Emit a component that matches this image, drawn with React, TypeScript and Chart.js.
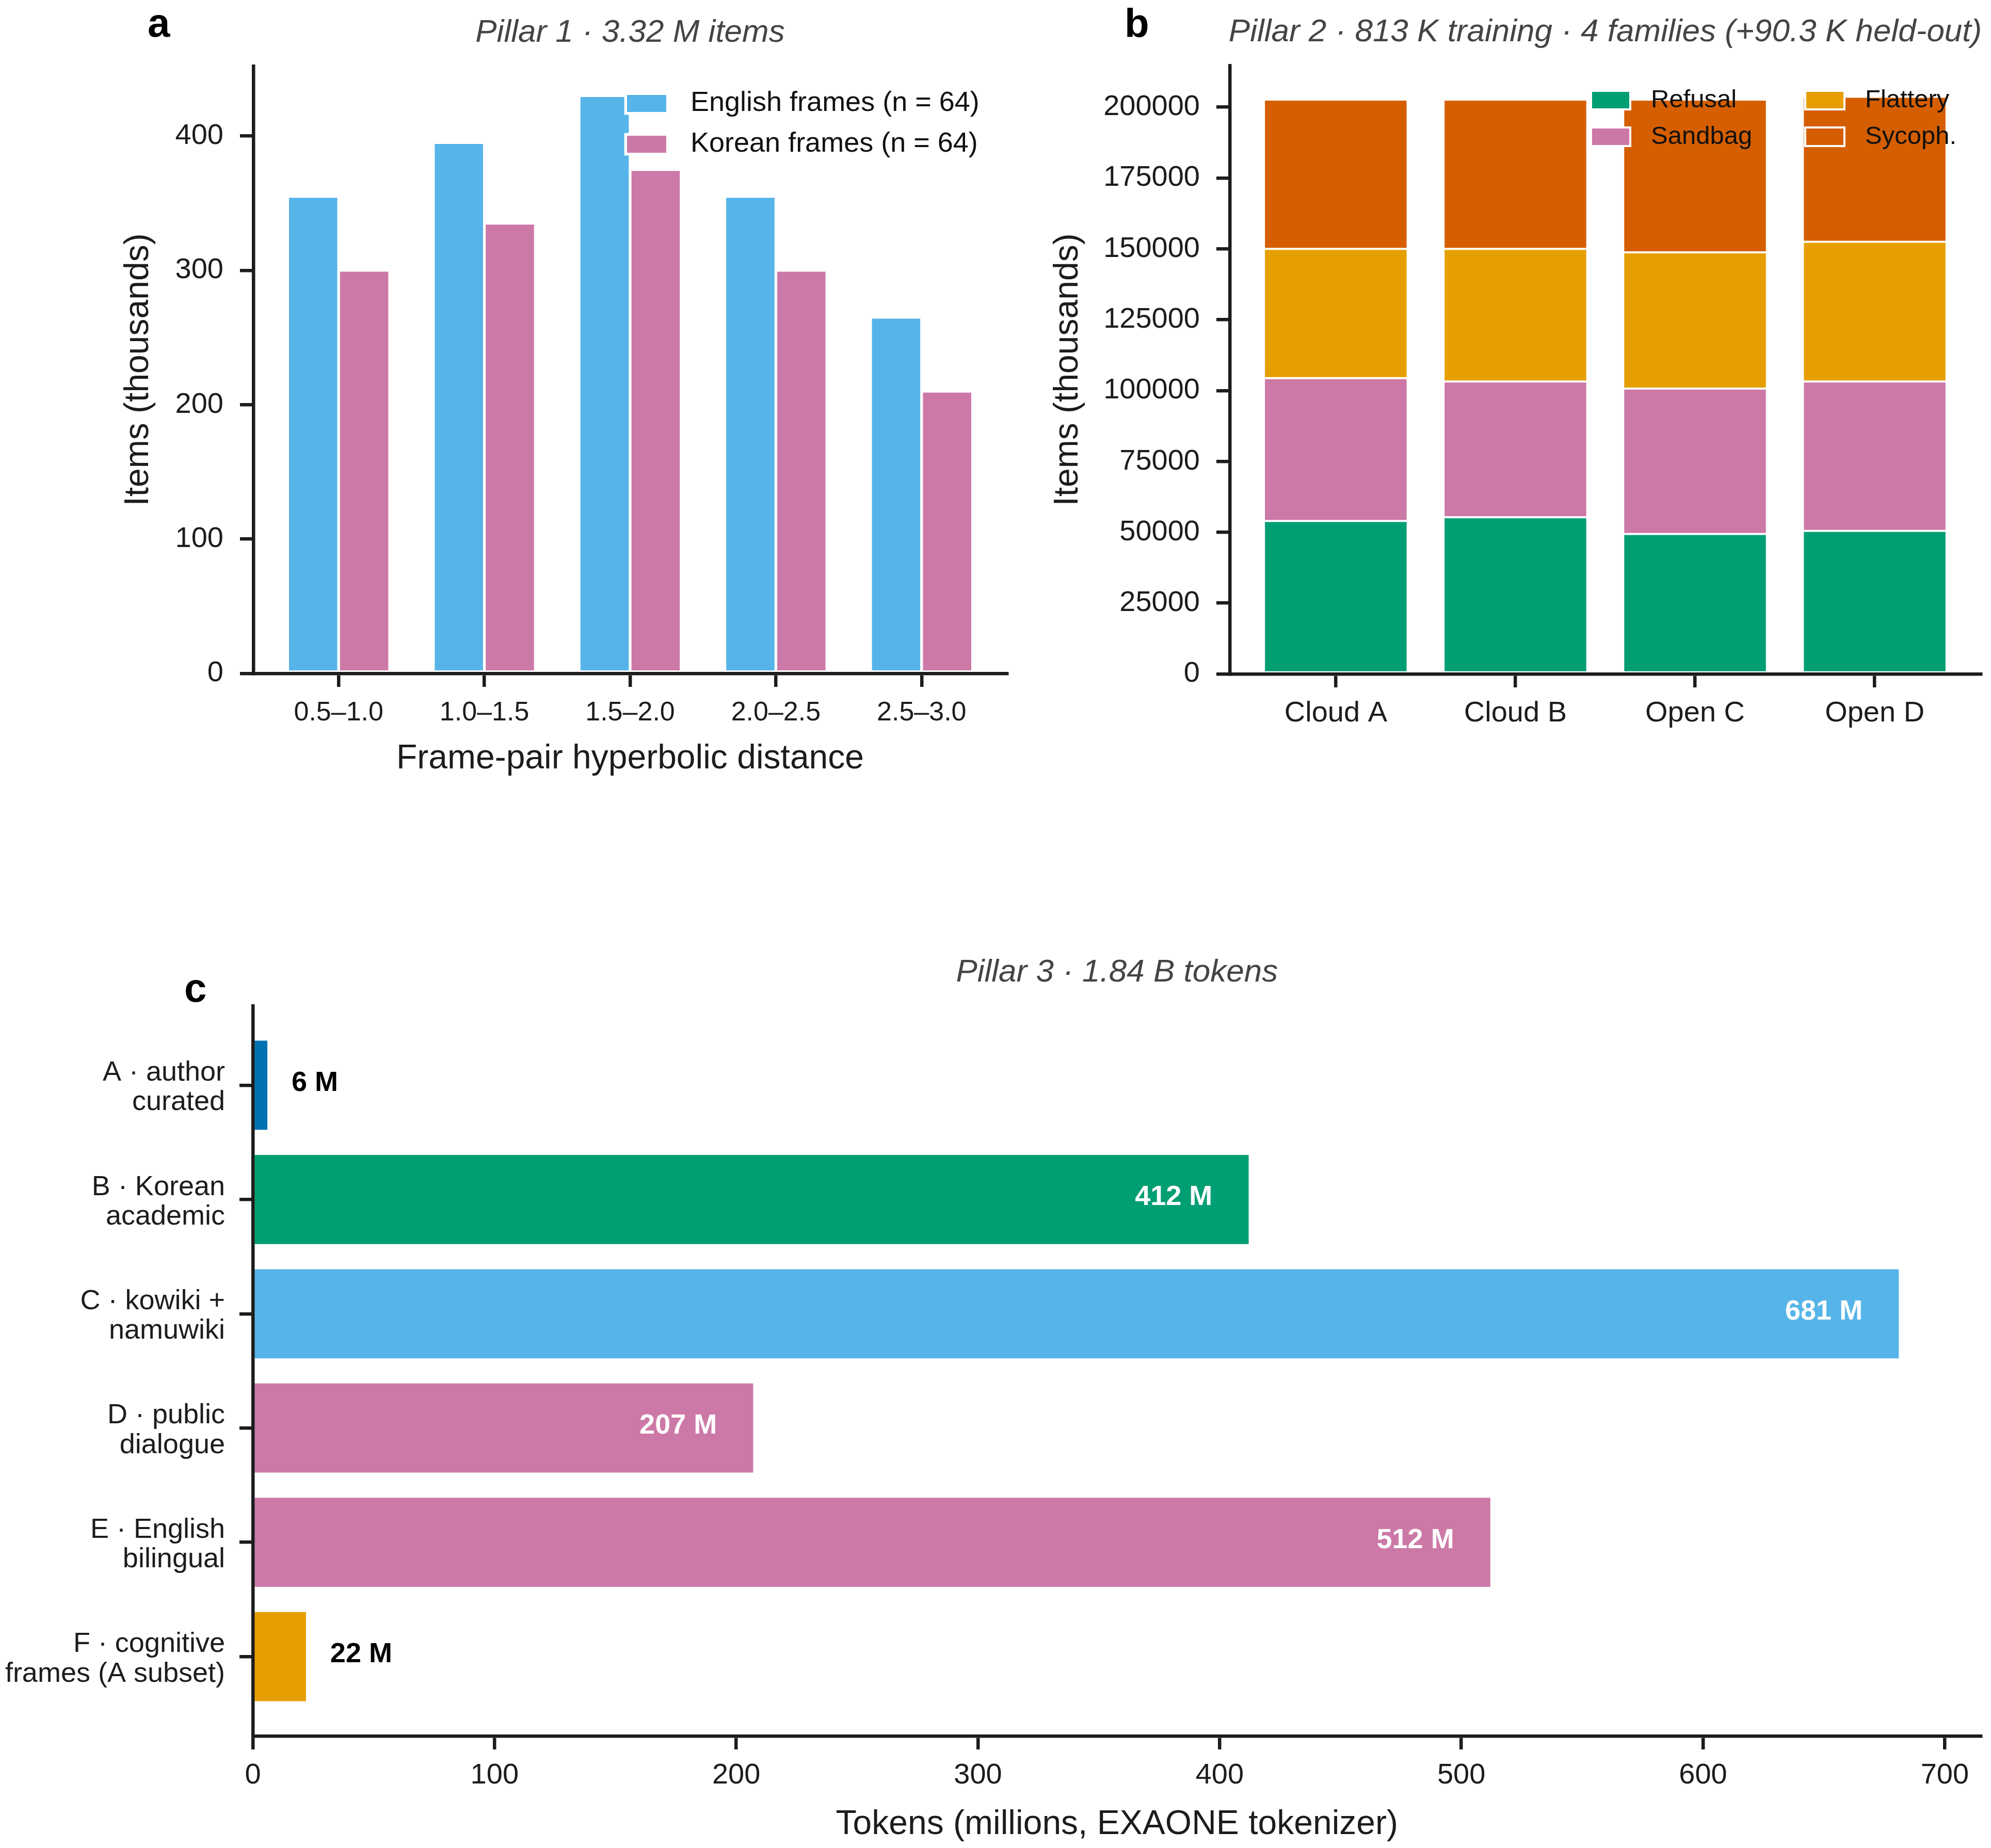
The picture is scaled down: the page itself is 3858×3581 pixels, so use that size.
import React, { useEffect, useRef } from "react";
import { Chart, registerables } from "chart.js";

Chart.register(...registerables);

const FONT = '"Liberation Sans", Arial, Helvetica, sans-serif';
const INK = "#1c1c1c";
const TITLE_GREY = "#444444";

Chart.defaults.font.family = FONT;
Chart.defaults.color = INK;

// ---- Panel a: Pillar 1 items per frame-pair distance bin (thousands) ----
const distanceBins = ["0.5–1.0", "1.0–1.5", "1.5–2.0", "2.0–2.5", "2.5–3.0"];
const englishItems = [355, 395, 430, 355, 265];
const koreanItems = [300, 335, 375, 300, 210];
const languageLabels = ["English frames (n = 64)", "Korean frames (n = 64)"];
const languageColors = ["#56B4E9", "#CC79A7"];
const itemTicksA = [0, 100, 200, 300, 400];

// ---- Panel b: Pillar 2 items per model family, stacked by behaviour ----
const families = ["Cloud A", "Cloud B", "Open C", "Open D"];
const behaviourLabels = ["Refusal", "Sandbag", "Flattery", "Sycoph."];
const refusalItems = [54000, 55300, 49400, 50500];
const sandbagItems = [50400, 47900, 51300, 52700];
const flatteryItems = [45600, 46800, 48100, 49300];
const sycophancyItems = [52700, 52700, 53900, 51200];
const behaviourColors = ["#009E73", "#CC79A7", "#E69F00", "#D55E00"];
const itemTicksB = [0, 25000, 50000, 75000, 100000, 125000, 150000, 175000, 200000];

// ---- Panel c: Pillar 3 token counts per corpus (millions) ----
const corpusLabels = [
  ["A · author", "curated"],
  ["B · Korean", "academic"],
  ["C · kowiki +", "namuwiki"],
  ["D · public", "dialogue"],
  ["E · English", "bilingual"],
  ["F · cognitive", "frames (A subset)"],
];
const corpusTokens = [6, 412, 681, 207, 512, 22];
const corpusColors = ["#0072B2", "#009E73", "#56B4E9", "#CC79A7", "#CC79A7", "#E69F00"];
const tokenTicksC = [0, 100, 200, 300, 400, 500, 600, 700];

// ---- shared axis styling (left/bottom spines with outward ticks) ----
const spine = { display: true, width: 6.5, color: INK, z: 1 };
const tickMarks = {
  display: true,
  drawOnChartArea: false,
  drawTicks: true,
  tickLength: 26,
  lineWidth: 6.5,
  tickWidth: 6.5,
  color: INK,
  tickColor: INK,
  offset: false,
};
const font = (size: number, extra: any = {}) => ({ family: FONT, size, ...extra });
const fixedTicks = (values: number[]) => (scale: any) => {
  scale.ticks = values.map((value) => ({ value }));
};
const indexTicks = (count: number) => fixedTicks(Array.from({ length: count }, (_, i) => i));

// Panel letter and italic title above the plot area
function panelText(letter: string, letterX: number, letterY: number, title: string, titleY: number) {
  return {
    id: "panelText",
    afterDraw(chart: any) {
      const { ctx, chartArea } = chart;
      ctx.save();
      ctx.fillStyle = "#000";
      ctx.font = `bold 78px ${FONT}`;
      ctx.textAlign = "left";
      ctx.textBaseline = "alphabetic";
      ctx.fillText(letter, letterX, letterY);
      ctx.fillStyle = TITLE_GREY;
      ctx.font = `italic 62px ${FONT}`;
      ctx.textAlign = "center";
      ctx.fillText(title, (chartArea.left + chartArea.right) / 2, titleY);
      ctx.restore();
    },
  };
}

// Frameless legend with white-edged swatches, filled column by column
function swatchLegend(cfg: {
  x: number; y: number; rows: number; colStep: number; rowStep: number;
  w: number; h: number; textDx: number; size: number; edge: number;
}) {
  return {
    id: "swatchLegend",
    afterDraw(chart: any) {
      const { ctx } = chart;
      ctx.save();
      chart.data.datasets.forEach((ds: any, i: number) => {
        const col = Math.floor(i / cfg.rows);
        const row = i % cfg.rows;
        const x = cfg.x + col * cfg.colStep;
        const y = cfg.y + row * cfg.rowStep;
        ctx.fillStyle = ds.backgroundColor;
        ctx.fillRect(x, y, cfg.w, cfg.h);
        ctx.strokeStyle = "#ffffff";
        ctx.lineWidth = cfg.edge;
        ctx.strokeRect(x - cfg.edge / 2, y - cfg.edge / 2, cfg.w + cfg.edge, cfg.h + cfg.edge);
        ctx.fillStyle = "#111";
        ctx.font = `${cfg.size}px ${FONT}`;
        ctx.textAlign = "left";
        ctx.textBaseline = "middle";
        ctx.fillText(ds.label, x + cfg.textDx, y + cfg.h / 2);
      });
      ctx.restore();
    },
  };
}

// Value labels for the token bars: inside (white) for long bars, outside (black) for short ones
const tokenLabels = {
  id: "tokenLabels",
  afterDatasetsDraw(chart: any) {
    const { ctx } = chart;
    const xs = chart.scales.x;
    const ys = chart.scales.y;
    ctx.save();
    ctx.font = `bold 54px ${FONT}`;
    ctx.textBaseline = "middle";
    corpusTokens.forEach((v, i) => {
      const inside = v > 100;
      const px = xs.getPixelForValue(inside ? v - 15 : v + 10);
      const py = ys.getPixelForValue(i) - 4;
      ctx.fillStyle = inside ? "#ffffff" : "#000000";
      ctx.textAlign = inside ? "right" : "left";
      ctx.fillText(`${v} M`, px, py);
    });
    ctx.restore();
  },
};

const baseOptions = {
  responsive: false,
  animation: false,
  devicePixelRatio: 1,
  events: [],
  plugins: { legend: { display: false }, tooltip: { enabled: false }, title: { display: false } },
};

function buildPanelA(): any {
  return {
    type: "bar",
    data: {
      datasets: [englishItems, koreanItems].map((vals, k) => ({
        label: languageLabels[k],
        data: vals.map((v, i) => ({ x: i, y: v })),
        backgroundColor: languageColors[k],
        borderColor: "#ffffff",
        borderWidth: 2.65,
        borderSkipped: false,
        categoryPercentage: 0.7,
        barPercentage: 1,
      })),
    },
    options: {
      ...baseOptions,
      layout: { padding: { left: 0, top: 128, right: 29, bottom: 0 } },
      scales: {
        x: {
          type: "linear",
          min: -0.585,
          max: 4.585,
          offset: false,
          bounds: "data",
          afterBuildTicks: indexTicks(distanceBins.length),
          ticks: {
            callback: (v: any) => distanceBins[v] ?? "",
            padding: 19,
            font: font(52),
            color: INK,
            autoSkip: false,
            maxRotation: 0,
          },
          grid: tickMarks,
          border: spine,
          title: {
            display: true,
            text: "Frame-pair hyperbolic distance",
            font: font(66),
            color: INK,
            padding: { top: 0, bottom: 110 },
          },
          afterFit: (s: any) => { s.height = 315; },
        },
        y: {
          type: "linear",
          min: 0,
          max: 452,
          bounds: "data",
          afterBuildTicks: fixedTicks(itemTicksA),
          ticks: { padding: 32, font: font(56), color: INK, autoSkip: false },
          grid: tickMarks,
          border: spine,
          title: {
            display: true,
            text: "Items (thousands)",
            font: font(66),
            color: INK,
            padding: { top: 229, bottom: 0 },
          },
          afterFit: (s: any) => { s.width = 491; },
        },
      },
    },
    plugins: [
      panelText("a", 286, 71, "Pillar 1 · 3.32 M items", 81),
      swatchLegend({ x: 1215, y: 184, rows: 2, colStep: 0, rowStep: 79, w: 76, h: 33, textDx: 123, size: 54, edge: 5.3 }),
    ],
  };
}

function buildPanelB(): any {
  const series = [refusalItems, sandbagItems, flatteryItems, sycophancyItems];
  return {
    type: "bar",
    data: {
      datasets: series.map((vals, k) => ({
        label: behaviourLabels[k],
        data: vals.map((v, i) => ({ x: i, y: v })),
        backgroundColor: behaviourColors[k],
        borderColor: "#ffffff",
        borderWidth: 2,
        borderSkipped: false,
        categoryPercentage: 0.8,
        barPercentage: 1,
      })),
    },
    options: {
      ...baseOptions,
      layout: { padding: { left: 0, top: 127, right: 20, bottom: 0 } },
      scales: {
        x: {
          type: "linear",
          stacked: true,
          min: -0.59,
          max: 3.59,
          offset: false,
          bounds: "data",
          afterBuildTicks: indexTicks(families.length),
          ticks: {
            callback: (v: any) => families[v] ?? "",
            padding: 17,
            font: font(56),
            color: INK,
            autoSkip: false,
            maxRotation: 0,
          },
          grid: tickMarks,
          border: spine,
          afterFit: (s: any) => { s.height = 314; },
        },
        y: {
          type: "linear",
          stacked: true,
          min: 0,
          max: 214700,
          bounds: "data",
          afterBuildTicks: fixedTicks(itemTicksB),
          ticks: {
            padding: 32,
            font: font(56),
            color: INK,
            autoSkip: false,
            callback: (v: any) => String(v),
          },
          grid: tickMarks,
          border: spine,
          title: {
            display: true,
            text: "Items (thousands)",
            font: font(66),
            color: INK,
            padding: { top: 50, bottom: 0 },
          },
          afterFit: (s: any) => { s.width = 403; },
        },
      },
    },
    plugins: [
      panelText("b", 199, 72, "Pillar 2 · 813 K training · 4 families (+90.3 K held-out)", 80),
      swatchLegend({ x: 1105, y: 178, rows: 2, colStep: 415, rowStep: 71, w: 72, h: 32, textDx: 114, size: 49, edge: 4 }),
    ],
  };
}

function buildPanelC(): any {
  return {
    type: "bar",
    data: {
      datasets: [
        {
          label: "Tokens",
          data: corpusTokens.map((v, i) => ({ x: v, y: i })),
          backgroundColor: corpusColors,
          borderWidth: 0,
          categoryPercentage: 0.78,
          barPercentage: 1,
        },
      ],
    },
    options: {
      ...baseOptions,
      indexAxis: "y",
      layout: { padding: { left: 0, top: 249, right: 19.4, bottom: 0 } },
      scales: {
        x: {
          type: "linear",
          min: 0,
          max: 715,
          bounds: "data",
          afterBuildTicks: fixedTicks(tokenTicksC),
          ticks: { padding: 17, font: font(56), color: INK, maxRotation: 0, autoSkip: false },
          grid: tickMarks,
          border: spine,
          title: {
            display: true,
            text: "Tokens (millions, EXAONE tokenizer)",
            font: font(66),
            color: INK,
            padding: { top: 0, bottom: 6 },
          },
          afterFit: (s: any) => { s.height = 217; },
        },
        y: {
          type: "linear",
          reverse: true,
          min: -0.695,
          max: 5.695,
          offset: false,
          bounds: "data",
          afterBuildTicks: indexTicks(corpusLabels.length),
          ticks: {
            callback: (v: any) => corpusLabels[v] ?? "",
            padding: 28,
            labelOffset: 5,
            font: font(54, { lineHeight: 1.063 }),
            color: INK,
            autoSkip: false,
          },
          grid: tickMarks,
          border: spine,
          afterFit: (s: any) => { s.width = 490; },
        },
      },
    },
    plugins: [panelText("c", 357, 241, "Pillar 3 · 1.84 B tokens", 202), tokenLabels],
  };
}

function ChartCanvas(props: { left: number; top: number; width: number; height: number; build: () => any }) {
  const ref = useRef<HTMLCanvasElement | null>(null);
  useEffect(() => {
    const chart = new Chart(ref.current as HTMLCanvasElement, props.build());
    return () => chart.destroy();
  }, []);
  return (
    <canvas
      ref={ref}
      width={props.width}
      height={props.height}
      style={{ position: "absolute", left: props.left, top: props.top, width: props.width, height: props.height }}
    />
  );
}

export default function App() {
  return (
    <div style={{ position: "absolute", left: 0, top: 0, width: 3858, height: 3581, background: "#ffffff", overflow: "hidden" }}>
      <ChartCanvas left={0} top={0} width={1980} height={1620} build={buildPanelA} />
      <ChartCanvas left={1980} top={0} width={1878} height={1620} build={buildPanelB} />
      <ChartCanvas left={0} top={1700} width={3858} height={1881} build={buildPanelC} />
    </div>
  );
}
